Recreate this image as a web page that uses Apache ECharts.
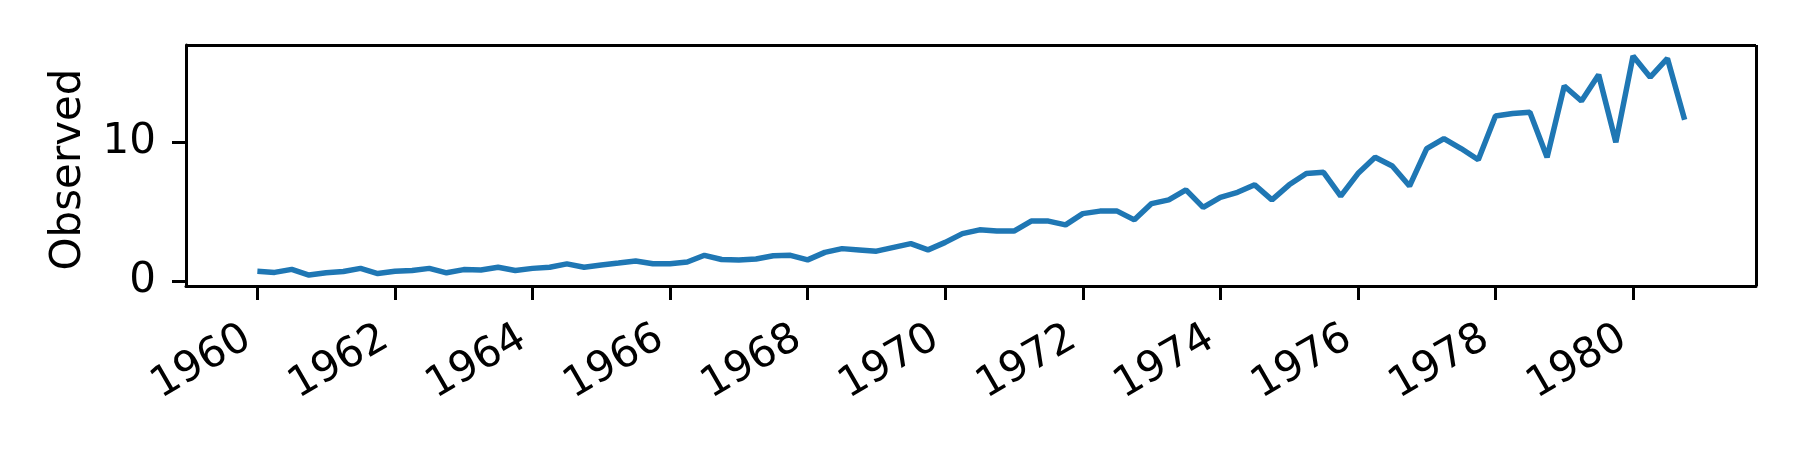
<!DOCTYPE html>
<html>
<head>
<meta charset="utf-8">
<script src="https://cdn.jsdelivr.net/npm/echarts@6/dist/echarts.min.js"></script>
<style>
  html, body { margin: 0; padding: 0; background: #fff; }
  #main { width: 1800px; height: 450px; }
</style>
</head>
<body>
<div id="main"></div>
<script>
var chartDom = document.getElementById("main");
var myChart = echarts.init(chartDom);
var option;

// quarterly observations, first quarter of 1960 onwards
const startYear = 1960;
const observed = [
  0.71, 0.63, 0.85, 0.44,
  0.61, 0.69, 0.92, 0.55,
  0.72, 0.77, 0.92, 0.6,
  0.83, 0.8, 1.0, 0.77,
  0.92, 1.0, 1.24, 1.0,
  1.16, 1.3, 1.45, 1.25,
  1.26, 1.38, 1.86, 1.56,
  1.53, 1.59, 1.83, 1.86,
  1.53, 2.07, 2.34, 2.25,
  2.16, 2.43, 2.7, 2.25,
  2.79, 3.42, 3.69, 3.6,
  3.6, 4.32, 4.32, 4.05,
  4.86, 5.04, 5.04, 4.41,
  5.58, 5.85, 6.57, 5.31,
  6.03, 6.39, 6.93, 5.85,
  6.93, 7.74, 7.83, 6.12,
  7.74, 8.91, 8.28, 6.84,
  9.54, 10.26, 9.54, 8.73,
  11.88, 12.06, 12.15, 8.91,
  14.04, 12.96, 14.85, 9.99,
  16.2, 14.67, 16.02, 11.61,
];
const xTicks = [1960, 1962, 1964, 1966, 1968, 1970, 1972, 1974, 1976, 1978, 1980];
const yTicks = [0, 10];

// quarter start dates as fractional years
const points = observed.map(function (v, i) {
  return [startYear + i * 0.25, v];
});

const font = "DejaVu Sans";
const xMin = 1958.9625, xMax = 1981.7875;
const yMin = -0.348, yMax = 16.988;

option = {
  animation: false,
  grid: {
    left: 186,
    right: 44,
    top: 45,
    bottom: 164,
  },
  xAxis: {
    type: "value",
    min: xMin,
    max: xMax,
    axisLine: { show: true, onZero: false, lineStyle: { color: "#000", width: 3 } },
    axisTick: {
      show: true,
      length: 14,
      lineStyle: { color: "#000", width: 3 },
      customValues: xTicks,
    },
    axisLabel: {
      rotate: 30,
      margin: 44,
      padding: [0, 11, 0, 0],
      color: "#000",
      fontFamily: font,
      fontSize: 42,
      customValues: xTicks,
      formatter: function (v) {
        return String(Math.round(v));
      },
    },
    splitLine: { show: false },
  },
  yAxis: {
    type: "value",
    min: yMin,
    max: yMax,
    name: "Observed",
    nameLocation: "middle",
    nameGap: 96,
    nameTextStyle: {
      color: "#000",
      fontFamily: font,
      fontSize: 42,
      padding: [0, 8, 0, 0],
    },
    axisLine: { show: true, onZero: false, lineStyle: { color: "#000", width: 3 } },
    axisTick: {
      show: true,
      length: 14,
      lineStyle: { color: "#000", width: 3 },
      customValues: yTicks,
    },
    axisLabel: {
      margin: 30,
      padding: [10, 0, 0, 0],
      color: "#000",
      fontFamily: font,
      fontSize: 42,
      customValues: yTicks,
    },
    splitLine: { show: false },
  },
  series: [
    {
      type: "line",
      data: points,
      showSymbol: false,
      lineStyle: { color: "#1f77b4", width: 5.5 },
      itemStyle: { color: "#1f77b4" },
    },
    {
      // box around the plot area
      type: "line",
      data: [],
      markLine: {
        silent: true,
        symbol: "none",
        label: { show: false },
        lineStyle: { color: "#000", width: 3, type: "solid" },
        data: [
          [{ coord: [xMin, yMax] }, { coord: [xMax, yMax] }],
          [{ coord: [xMax, yMin] }, { coord: [xMax, yMax] }],
        ],
      },
    },
  ],
};

option && myChart.setOption(option);
</script>
</body>
</html>
